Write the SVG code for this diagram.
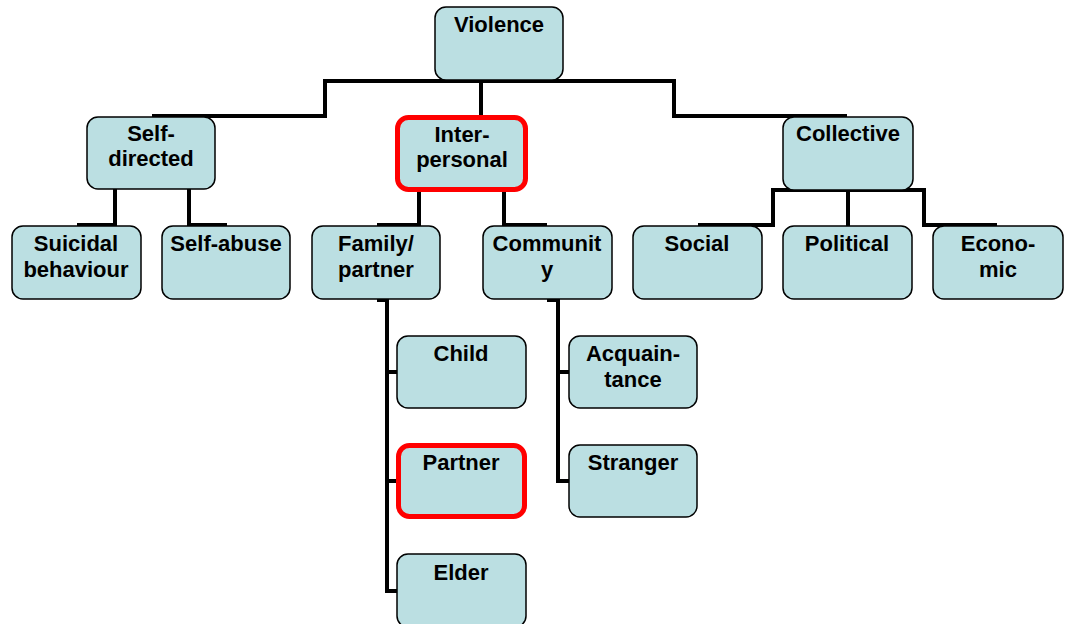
<svg xmlns="http://www.w3.org/2000/svg" width="1067" height="624" viewBox="0 0 1067 624">
  <style>
    .box { fill: #bbdfe2; stroke: #000; stroke-width: 1.5; }
    .hl { fill: #bbdfe2; stroke: #ff0000; stroke-width: 5; }
    .lbl { font-family: "Liberation Sans", Arial, sans-serif; font-weight: bold; font-size: 22px; fill: #000; text-anchor: middle; }
    .wire { fill: none; stroke: #000; stroke-width: 4; stroke-linejoin: miter; }
  </style>
  <rect width="1067" height="624" fill="#fff"/>

  <!-- connectors -->
  <g id="connectors" class="wire">
    <path d="M152,116 H325 V81 H674 V116 H847"/>
    <path d="M481,81 V117"/>
    <path d="M77,225 H115 V189"/>
    <path d="M189,189 V225 H227"/>
    <path d="M377,225 H419 V190"/>
    <path d="M504,190 V225 H547"/>
    <path d="M698,225 H773 V190 H924 V225 H997"/>
    <path d="M848,190 V226"/>
    <path d="M377,300 H387 V591 H398 M387,372 H398 M387,481 H398"/>
    <path d="M547,300 H558 V481 H569 M558,372 H569"/>
  </g>

  <!-- nodes -->
  <g id="violence"><rect class="box" x="435" y="7" width="128" height="73" rx="11"/><text class="lbl" x="499" y="32">Violence</text></g>

  <g id="self-directed"><rect class="box" x="87" y="117" width="128" height="72" rx="11"/><text class="lbl" x="151" y="141">Self-</text><text class="lbl" x="151" y="166">directed</text></g>
  <g id="interpersonal"><rect class="hl" x="397.5" y="117.5" width="128" height="72" rx="11"/><text class="lbl" x="462" y="142">Inter-</text><text class="lbl" x="462" y="167">personal</text></g>
  <g id="collective"><rect class="box" x="783" y="117" width="130" height="73" rx="11"/><text class="lbl" x="848" y="141">Collective</text></g>

  <g id="suicidal"><rect class="box" x="12" y="226" width="129" height="73" rx="11"/><text class="lbl" x="76" y="251">Suicidal</text><text class="lbl" x="76" y="277">behaviour</text></g>
  <g id="self-abuse"><rect class="box" x="162" y="226" width="128" height="73" rx="11"/><text class="lbl" x="226" y="251">Self-abuse</text></g>
  <g id="family"><rect class="box" x="312" y="226" width="128" height="73" rx="11"/><text class="lbl" x="376" y="251">Family/</text><text class="lbl" x="376" y="277">partner</text></g>
  <g id="community"><rect class="box" x="483" y="226" width="129" height="73" rx="11"/><text class="lbl" x="547" y="251">Communit</text><text class="lbl" x="547" y="277">y</text></g>
  <g id="social"><rect class="box" x="633" y="226" width="129" height="73" rx="11"/><text class="lbl" x="697" y="251">Social</text></g>
  <g id="political"><rect class="box" x="783" y="226" width="129" height="73" rx="11"/><text class="lbl" x="847" y="251">Political</text></g>
  <g id="economic"><rect class="box" x="933" y="226" width="130" height="73" rx="11"/><text class="lbl" x="998" y="251">Econo-</text><text class="lbl" x="998" y="277">mic</text></g>

  <g id="child"><rect class="box" x="397" y="336" width="129" height="72" rx="11"/><text class="lbl" x="461" y="361">Child</text></g>
  <g id="partner"><rect class="hl" x="398.5" y="445.5" width="126" height="71" rx="11"/><text class="lbl" x="461" y="470">Partner</text></g>
  <g id="elder"><rect class="box" x="397" y="554" width="129" height="73" rx="11"/><text class="lbl" x="461" y="580">Elder</text></g>

  <g id="acquaintance"><rect class="box" x="569" y="336" width="128" height="72" rx="11"/><text class="lbl" x="633" y="361">Acquain-</text><text class="lbl" x="633" y="387">tance</text></g>
  <g id="stranger"><rect class="box" x="569" y="445" width="128" height="72" rx="11"/><text class="lbl" x="633" y="470">Stranger</text></g>
</svg>
